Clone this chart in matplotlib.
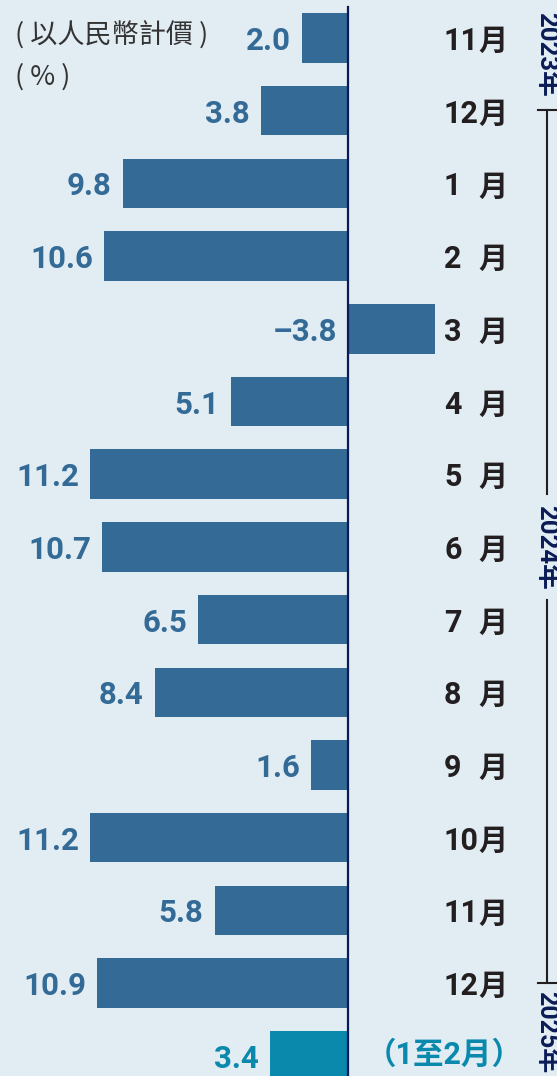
import matplotlib
matplotlib.use("Agg")
import matplotlib.pyplot as plt

# month labels and values (%, RMB-based, yoy)
months = ["11", "12", "1", "2", "3", "4", "5", "6", "7", "8", "9", "10", "11", "12"]
values = [2.0, 3.8, 9.8, 10.6, -3.8, 5.1, 11.2, 10.7, 6.5, 8.4, 1.6, 11.2, 5.8, 10.9]
last_label = "（1至2月）"
last_value = 3.4

years = ["2023年", "2024年", "2025年"]

BG = "#e1ecf3"
BAR = "#336a96"
TEAL = "#0a89ad"
DARK = "#231f20"
NAVY = "#0b1b55"

FONT = ["Roboto", "Noto Sans CJK TC", "DejaVu Sans"]
CJK = ["Noto Sans CJK TC", "DejaVu Sans"]
FS = 22.5

W, H = 557, 1076
fig = plt.figure(figsize=(W / 100, H / 100), dpi=100)
fig.patch.set_facecolor(BG)

ax = fig.add_axes([0, 0, 1, 1])
ax.set_facecolor(BG)

zero_px, unit_px = 348, 23.0
ax.set_xlim(zero_px / unit_px, -(W - zero_px) / unit_px)
row0, step = 38, 72.7
ax.set_ylim((H - row0) / step, -row0 / step)
ax.axis("off")

rows = list(range(len(values)))
ax.barh(rows, values, height=0.68, color=BAR)
ax.barh([len(values)], [last_value], height=0.68, color=TEAL)
ax.plot([0, 0], [(7 - row0) / step, (H - row0) / step], color=NAVY, lw=1.6)

for i, v in enumerate(values):
    ax.annotate(f"{v:.1f}".replace("-", "–"), xy=(max(v, 0), i), xytext=(-8, 0),
                textcoords="offset points", ha="right", va="center_baseline",
                fontsize=FS, fontweight="bold", color=BAR, family=FONT)
ax.annotate(f"{last_value:.1f}", xy=(last_value, len(values)), xytext=(-8, 0),
            textcoords="offset points", ha="right", va="center_baseline",
            fontsize=FS, fontweight="bold", color=TEAL, family=FONT)

# overlay in pixel coords for labels and year brackets
ov = fig.add_axes([0, 0, 1, 1], facecolor="none")
ov.set_xlim(0, W)
ov.set_ylim(H, 0)
ov.axis("off")

for i, m in enumerate(months):
    y = row0 + step * i
    ov.text(444, y, m, ha="left", va="center_baseline", fontsize=FS - 0.5,
            fontweight="bold", color=DARK, family=FONT)
    ov.text(508, y, "月", ha="right", va="center_baseline", fontsize=FS - 1.5,
            fontweight="bold", color=DARK, family=CJK)
ov.text(444, row0 + step * len(values) - 4, last_label, ha="center",
        va="center_baseline", fontsize=FS - 0.5, fontweight="bold", color=TEAL,
        family=FONT)

ov.text(15, 35, "( 以人民幣計價 )", ha="left", va="center", fontsize=19.5,
        color="#333333", family=CJK)
ov.text(15, 77, "( % )", ha="left", va="center", fontsize=19.5,
        color="#333333", family=CJK)

ov.text(546, 12, years[0], rotation=-90, ha="center", va="top", fontsize=18.5,
        fontweight="bold", color=NAVY, family=FONT)
ov.text(546, 547, years[1], rotation=-90, ha="center", va="center", fontsize=18.5,
        fontweight="bold", color=NAVY, family=FONT)
ov.text(546, 991, years[2], rotation=-90, ha="center", va="top", fontsize=18,
        fontweight="bold", color=NAVY, family=FONT)

lc = "#231f20"
ov.plot([547, 547], [110, 494], color=lc, lw=1.5)
ov.plot([538, 557], [110, 110], color=lc, lw=1.5)
ov.plot([547, 547], [600, 983], color=lc, lw=1.5)
ov.plot([538, 557], [983, 983], color=lc, lw=1.5)

fig.savefig("out.png", dpi=100, facecolor=BG)
